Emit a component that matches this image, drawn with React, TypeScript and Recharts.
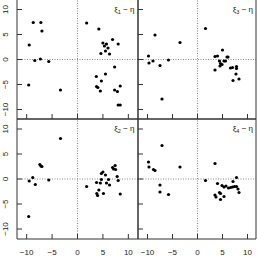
import React from "react";
import { ScatterChart, Scatter, XAxis, YAxis, ReferenceLine } from "recharts";

const tickValues = [-10, -5, 0, 5, 10];

const p1X = [-8.7, -7.2, -7.0, -9.5, -8.4, -7.3, -5.65, -9.6, -3.35, 1.8, 4.2, 6.9, 5.0, 5.7, 8.0, 5.3, 6.0, 5.5, 4.6, 6.3, 7.3, 5.5, 3.7, 4.7, 3.75, 4.0, 4.5, 7.3, 7.85, 8.4, 8.0, 8.4];
const p1Y = [7.4, 7.4, 5.7, 2.9, -0.2, 0.1, -0.4, -5.1, -6.1, 7.3, 6.1, 4.0, 3.3, 3.1, 3.1, 2.7, 2.3, 1.7, 1.2, 1.1, -1.5, -2.9, -3.4, -4.3, -5.4, -5.6, -6.3, -6.1, -6.4, -5.3, -9.1, -9.1];

const p3X = [-8.5, -3.5, -9.8, -9.7, -8.9, -7.5, -5.8, -7.1, 1.6, 5.0, 3.5, 4.0, 5.9, 6.1, 4.4, 5.3, 5.6, 4.6, 4.9, 4.5, 3.5, 6.6, 7.0, 7.8, 7.8, 7.7, 8.3, 7.1];
const p3Y = [4.9, 3.4, 0.7, -0.7, -0.3, -1.2, -0.1, -7.9, 6.2, 1.9, 0.6, 0.7, 0.5, 0.5, -0.3, -0.3, -0.3, -0.8, -1.0, -1.3, -2.1, -1.7, -1.6, -1.4, -1.8, -2.9, -3.9, -4.2];

const p2X = [-3.35, -7.4, -7.2, -7.0, -8.8, -9.5, -8.3, -5.65, -9.6, 1.8, 5.0, 4.7, 6.9, 7.4, 7.1, 7.5, 5.5, 6.1, 4.7, 7.8, 8.0, 3.75, 4.5, 5.7, 6.3, 4.2, 3.8, 3.95, 5.1, 8.4];
const p2Y = [8.1, 2.9, 2.6, 2.5, 0.3, -0.4, -1.1, -0.2, -7.5, -1.5, 1.4, 1.1, 2.3, 2.7, 2.0, 1.9, 0.8, -0.1, -0.1, 0.5, -0.3, -0.7, -0.8, -0.8, -1.2, -2.2, -2.9, -3.3, -2.9, -3.0];

const p4X = [-7.1, -9.8, -9.7, -8.8, -8.5, -3.5, -7.5, -7.5, -5.8, 1.6, 3.5, 4.0, 7.8, 7.1, 4.9, 5.3, 5.7, 6.2, 6.6, 7.0, 7.4, 7.8, 8.1, 8.3, 4.4, 3.5, 3.7, 4.6, 5.3, 4.6];
const p4Y = [6.7, 3.4, 2.4, 1.9, 1.7, 2.4, -1.2, -2.6, -3.1, -0.3, 3.1, -0.9, 0.3, -0.5, -1.3, -1.6, -1.4, -1.8, -1.7, -1.6, -1.5, -1.5, -2.0, -2.7, -2.7, -3.2, -3.6, -4.1, -3.5, -2.9];

const panelLabels = ["1", "3", "2", "4"];

const FONT = "'Liberation Sans', Arial, Helvetica, sans-serif";
const BORDER = "#333";
const TEXT = "#222";

const fmt = (v: number) => (v < 0 ? "\u2212" + Math.abs(v) : String(v));

const toData = (xs: number[], ys: number[]) => xs.map((x, i) => ({ x, y: ys[i] }));

const Dot = (props: any) => <circle cx={props.cx} cy={props.cy} r={1.6} fill="#000" />;

const makeXTick = (show: boolean) => (props: any) => {
  const { x, y, payload } = props;
  return (
    <g>
      <line x1={x} x2={x} y1={y} y2={y - 5} stroke={BORDER} strokeWidth={1} />
      {show && (
        <text x={x} y={y + 15.8} textAnchor="middle" fontSize={8} fontFamily={FONT} fill={TEXT}>
          {fmt(payload.value)}
        </text>
      )}
    </g>
  );
};

const makeYTick = (show: boolean) => (props: any) => {
  const { x, y, payload } = props;
  const lx = x - 12.2;
  return (
    <g>
      <line x1={x} x2={x + 5} y1={y} y2={y} stroke={BORDER} strokeWidth={1} />
      {show && (
        <text
          x={lx}
          y={y}
          transform={`rotate(-90 ${lx} ${y})`}
          textAnchor="middle"
          dy="0.35em"
          fontSize={8}
          fontFamily={FONT}
          fill={TEXT}
        >
          {fmt(payload.value)}
        </text>
      )}
    </g>
  );
};

type PanelProps = {
  xs: number[];
  ys: number[];
  margin: { top: number; left: number; right: number; bottom: number };
  xDomain: [number, number];
  yDomain: [number, number];
  showXLabels: boolean;
  showYLabels: boolean;
  drawTop: boolean;
};

const Panel = ({ xs, ys, margin, xDomain, yDomain, showXLabels, showYLabels, drawTop }: PanelProps) => (
  <div style={{ position: "absolute", left: 0, top: 0 }}>
    <ScatterChart width={257} height={257} margin={margin} style={{ overflow: "visible" }}>
      <XAxis
        dataKey="x"
        type="number"
        domain={xDomain}
        ticks={tickValues}
        interval={0}
        allowDataOverflow
        height={1}
        tickSize={0}
        tickMargin={0}
        stroke={BORDER}
        tickLine={false}
        tick={makeXTick(showXLabels)}
      />
      <YAxis
        dataKey="y"
        type="number"
        domain={yDomain}
        ticks={tickValues}
        interval={0}
        allowDataOverflow
        width={1}
        tickSize={0}
        tickMargin={0}
        stroke={BORDER}
        tickLine={false}
        tick={makeYTick(showYLabels)}
      />
      <YAxis
        yAxisId="r"
        orientation="right"
        type="number"
        domain={yDomain}
        width={1}
        tick={false}
        tickLine={false}
        stroke={BORDER}
      />
      {drawTop && (
        <XAxis
          xAxisId="t"
          orientation="top"
          type="number"
          domain={xDomain}
          height={1}
          tick={false}
          tickLine={false}
          stroke={BORDER}
        />
      )}
      <ReferenceLine x={0} stroke="#888" strokeDasharray="1 1.5" />
      <ReferenceLine y={0} stroke="#888" strokeDasharray="1 1.5" />
      <Scatter data={toData(xs, ys)} shape={Dot} isAnimationActive={false} />
    </ScatterChart>
  </div>
);

const Label = ({ x, y, sub }: { x: number; y: number; sub: string }) => (
  <text x={x} y={y} textAnchor="end" fontSize={8} fontFamily={FONT} fill={TEXT}>
    ξ
    <tspan fontSize={5.5} dy={2}>
      {sub}
    </tspan>
    <tspan dy={-2}>{" \u2212 \u03b7"}</tspan>
  </text>
);

export default function App() {
  return (
    <div style={{ position: "fixed", left: 0, top: 0, width: 257, height: 257, background: "#fff" }}>
      <Panel
        xs={p1X}
        ys={p1Y}
        margin={{ top: 0, left: 16, right: 118, bottom: 137 }}
        xDomain={[-11.9, 11.9]}
        yDomain={[-11.9, 11.9]}
        showXLabels={false}
        showYLabels={true}
        drawTop={false}
      />
      <Panel
        xs={p3X}
        ys={p3Y}
        margin={{ top: 0, left: 137, right: 0, bottom: 137 }}
        xDomain={[-11.9, 11.7]}
        yDomain={[-11.9, 11.9]}
        showXLabels={false}
        showYLabels={false}
        drawTop={false}
      />
      <Panel
        xs={p2X}
        ys={p2Y}
        margin={{ top: 118, left: 16, right: 118, bottom: 17 }}
        xDomain={[-11.9, 11.9]}
        yDomain={[-12, 12]}
        showXLabels={true}
        showYLabels={true}
        drawTop={true}
      />
      <Panel
        xs={p4X}
        ys={p4Y}
        margin={{ top: 118, left: 137, right: 0, bottom: 17 }}
        xDomain={[-11.9, 11.7]}
        yDomain={[-12, 12]}
        showXLabels={true}
        showYLabels={false}
        drawTop={true}
      />
      <svg width={257} height={257} style={{ position: "absolute", left: 0, top: 0, pointerEvents: "none" }}>
        <Label x={134.5} y={12} sub={panelLabels[0]} />
        <Label x={253} y={12} sub={panelLabels[1]} />
        <Label x={134.5} y={131} sub={panelLabels[2]} />
        <Label x={253} y={131} sub={panelLabels[3]} />
      </svg>
    </div>
  );
}
